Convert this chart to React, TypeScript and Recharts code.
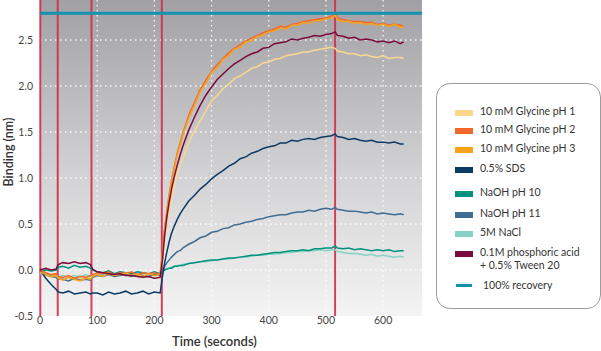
import React from "react";
import { CartesianGrid, Line, LineChart, ReferenceLine, XAxis, YAxis } from "recharts";

// sample times (s)
const TIME = [
  0, 10, 20, 28, 32, 40, 50, 60, 70, 80, 88, 92,
  100, 110, 120, 130, 140, 150, 160, 170, 180, 190, 200, 210,
  214, 218, 222, 226, 230, 235, 240, 245, 250,
  260, 270, 280, 290, 300, 310, 320, 330, 340, 350,
  360, 370, 380, 390, 400, 410, 420, 430, 440, 450,
  460, 470, 480, 490, 500, 510, 516,
  520, 530, 540, 550, 560, 570, 580, 590, 600, 610, 620, 630, 636,
];

const GLY_PH1 = [
  -0.03, -0.06, -0.08, -0.07, -0.09, -0.1, -0.08, -0.11, -0.09, -0.1, -0.08, -0.06,
  -0.05, -0.06, -0.04, -0.07, -0.05, -0.06, -0.04, -0.06, -0.05, -0.07, -0.05, -0.06,
  0.1, 0.32, 0.5, 0.65, 0.78, 0.92, 1.05, 1.13, 1.22,
  1.38, 1.51, 1.62, 1.73, 1.84, 1.9, 1.97, 2.02, 2.08, 2.11,
  2.15, 2.19, 2.21, 2.25, 2.26, 2.29, 2.3, 2.33, 2.34, 2.35,
  2.37, 2.37, 2.39, 2.4, 2.41, 2.42, 2.41,
  2.38, 2.37, 2.35, 2.35, 2.33, 2.34, 2.32, 2.31, 2.33, 2.3, 2.31, 2.31, 2.3,
];
const GLY_PH2 = [
  0.0, -0.03, -0.05, -0.04, -0.07, -0.08, -0.06, -0.09, -0.07, -0.08, -0.06, -0.05,
  -0.03, -0.04, -0.02, -0.05, -0.03, -0.04, -0.02, -0.05, -0.03, -0.04, -0.03, -0.05,
  0.18, 0.46, 0.66, 0.83, 0.98, 1.13, 1.27, 1.38, 1.49,
  1.68, 1.82, 1.96, 2.06, 2.16, 2.23, 2.3, 2.36, 2.41, 2.45,
  2.49, 2.52, 2.55, 2.58, 2.6, 2.62, 2.65, 2.64, 2.67, 2.68,
  2.7, 2.71, 2.72, 2.73, 2.74, 2.76, 2.79,
  2.74, 2.72, 2.71, 2.7, 2.7, 2.69, 2.69, 2.67, 2.68, 2.66, 2.67, 2.66, 2.65,
];
const GLY_PH3 = [
  -0.02, -0.05, -0.07, -0.06, -0.09, -0.11, -0.08, -0.1, -0.12, -0.09, -0.1, -0.07,
  -0.05, -0.07, -0.04, -0.06, -0.05, -0.03, -0.06, -0.05, -0.07, -0.04, -0.06, -0.05,
  0.16, 0.43, 0.63, 0.8, 0.96, 1.1, 1.25, 1.35, 1.47,
  1.65, 1.79, 1.94, 2.03, 2.15, 2.2, 2.29, 2.33, 2.4, 2.42,
  2.48, 2.49, 2.54, 2.55, 2.59, 2.6, 2.63, 2.62, 2.66, 2.66,
  2.69, 2.68, 2.71, 2.71, 2.73, 2.74, 2.77,
  2.72, 2.7, 2.7, 2.68, 2.69, 2.67, 2.68, 2.66, 2.67, 2.65, 2.67, 2.64, 2.64,
];
const SDS = [
  0.0, -0.09, -0.16, -0.21, -0.24, -0.25, -0.23, -0.26, -0.25, -0.24, -0.26, -0.25,
  -0.25, -0.27, -0.24, -0.26, -0.25, -0.23, -0.26, -0.25, -0.23, -0.26, -0.24, -0.25,
  -0.08, 0.08, 0.2, 0.31, 0.4, 0.48, 0.55, 0.61, 0.66,
  0.75, 0.81, 0.88, 0.93, 0.99, 1.04, 1.08, 1.13, 1.16, 1.21,
  1.23, 1.27, 1.29, 1.32, 1.34, 1.35, 1.38, 1.38, 1.41, 1.4,
  1.42, 1.43, 1.42, 1.44, 1.45, 1.46, 1.48,
  1.45, 1.44, 1.42, 1.43, 1.41, 1.4, 1.41, 1.39, 1.39, 1.38, 1.39, 1.37, 1.37,
];
const NAOH_PH10 = [
  -0.02, 0.0, -0.01, 0.0, 0.03, 0.04, 0.02, 0.05, 0.03, 0.04, 0.02, 0.0,
  -0.02, -0.03, -0.01, -0.04, -0.02, -0.03, -0.04, -0.02, -0.03, -0.04, -0.02, -0.04,
  -0.02, 0.0, 0.01, 0.02, 0.02, 0.04, 0.04, 0.05, 0.05,
  0.07, 0.08, 0.09, 0.1, 0.11, 0.11, 0.12, 0.13, 0.13, 0.14,
  0.15, 0.16, 0.16, 0.17, 0.18, 0.19, 0.19, 0.2, 0.21, 0.21,
  0.22, 0.21, 0.23, 0.23, 0.24, 0.24, 0.26,
  0.24, 0.23, 0.24, 0.22, 0.23, 0.22, 0.21, 0.22, 0.21, 0.22, 0.2, 0.21, 0.21,
];
const NAOH_PH11 = [
  -0.02, -0.05, -0.07, -0.08, -0.1, -0.1, -0.12, -0.09, -0.11, -0.1, -0.11, -0.08,
  -0.06, -0.07, -0.05, -0.07, -0.06, -0.05, -0.07, -0.05, -0.06, -0.07, -0.05, -0.06,
  -0.01, 0.04, 0.08, 0.11, 0.14, 0.17, 0.2, 0.21, 0.24,
  0.28, 0.31, 0.35, 0.37, 0.41, 0.42, 0.45, 0.46, 0.49, 0.5,
  0.52, 0.53, 0.55, 0.56, 0.58, 0.59, 0.6, 0.6, 0.62, 0.63,
  0.63, 0.65, 0.64, 0.66, 0.67, 0.66, 0.68,
  0.66, 0.65, 0.64, 0.64, 0.63, 0.62, 0.63, 0.61, 0.62, 0.61, 0.6, 0.61, 0.6,
];
const NACL_5M = [
  -0.04, -0.05, -0.06, -0.05, -0.07, -0.06, -0.08, -0.06, -0.07, -0.05, -0.07, -0.05,
  -0.04, -0.05, -0.03, -0.05, -0.04, -0.03, -0.05, -0.04, -0.03, -0.05, -0.04, -0.05,
  -0.02, 0.0, 0.02, 0.02, 0.03, 0.04, 0.05, 0.05, 0.06,
  0.07, 0.08, 0.09, 0.09, 0.1, 0.11, 0.12, 0.12, 0.13, 0.14,
  0.14, 0.15, 0.16, 0.16, 0.17, 0.17, 0.18, 0.19, 0.19, 0.2,
  0.2, 0.21, 0.21, 0.22, 0.21, 0.22, 0.22,
  0.2, 0.19, 0.18, 0.18, 0.17, 0.16, 0.17, 0.15, 0.16, 0.15, 0.14, 0.15, 0.14,
];
const PHOSPHORIC = [
  0.0, 0.02, 0.0, 0.01, 0.06, 0.08, 0.07, 0.09, 0.07, 0.08, 0.06, 0.01,
  -0.02, -0.03, -0.04, -0.05, -0.04, -0.06, -0.06, -0.07, -0.08, -0.07, -0.09, -0.08,
  0.1, 0.38, 0.58, 0.74, 0.88, 1.02, 1.14, 1.25, 1.35,
  1.52, 1.66, 1.79, 1.9, 1.99, 2.07, 2.13, 2.19, 2.24, 2.28,
  2.32, 2.35, 2.37, 2.41, 2.42, 2.46, 2.47, 2.48, 2.51, 2.5,
  2.52, 2.53, 2.55, 2.54, 2.56, 2.57, 2.59,
  2.55, 2.54, 2.52, 2.53, 2.5, 2.51, 2.5, 2.48, 2.49, 2.47, 2.49, 2.46, 2.48,
];

const RECOVERY = 2.79; // 100% recovery level
const EVENTS = [0.5, 31, 90, 213, 516]; // step boundaries (s)
const X_TICKS = [0, 100, 200, 300, 400, 500, 600];
const X_GRID = [100, 200, 300, 400, 500, 600];
const Y_TICKS = [-0.5, 0, 0.5, 1, 1.5, 2, 2.5];
const Y_GRID = [0, 0.5, 1, 1.5, 2, 2.5];

const SERIES = [
  { key: "g1", name: "10 mM Glycine pH 1", color: "#fdd68e", values: GLY_PH1 },
  { key: "g2", name: "10 mM Glycine pH 2", color: "#f2682a", values: GLY_PH2 },
  { key: "g3", name: "10 mM Glycine pH 3", color: "#f7a21b", values: GLY_PH3 },
  { key: "sds", name: "0.5% SDS", color: "#0c3a66", values: SDS },
  { key: "n10", name: "NaOH pH 10", color: "#00917f", values: NAOH_PH10 },
  { key: "n11", name: "NaOH pH 11", color: "#3f6d93", values: NAOH_PH11 },
  { key: "nacl", name: "5M NaCl", color: "#86d3c5", values: NACL_5M },
  { key: "pa", name: "0.1M phosphoric acid\n+ 0.5% Tween 20", color: "#7a0a3c", values: PHOSPHORIC },
];

// draw order: light lines first, maroon on top
const DRAW_ORDER = ["g1", "nacl", "n10", "n11", "sds", "g2", "g3", "pa"];

const data = TIME.map((t, i) => {
  const row: Record<string, number> = { t };
  SERIES.forEach((s) => (row[s.key] = s.values[i]));
  return row;
});

const FONT = "Lato, 'Open Sans', sans-serif";
const LEGEND_TOPS = [29, 47, 66, 86, 110, 131, 150, 170];

function YTick({ x, y, payload }: any) {
  return (
    <text x={x} y={y} dy="0.35em" textAnchor="end" fontSize={10.5} fill="#444" fontFamily={FONT}>
      {payload.value.toFixed(1)}
    </text>
  );
}

export default function App() {
  return (
    <div style={{ position: "absolute", left: 0, top: 0, width: 601, height: 351, background: "#fff", fontFamily: FONT }}>
      <LineChart width={601} height={351} data={data} margin={{ top: 0, right: 179, bottom: 0, left: 0 }}>
        <defs>
          <linearGradient id="plotBg" x1="0" y1="0" x2="0" y2="1">
            <stop offset="0%" stopColor="#a1a1a5" />
            <stop offset="55%" stopColor="#d2d2d4" />
            <stop offset="100%" stopColor="#f4f4f4" />
          </linearGradient>
        </defs>
        <CartesianGrid
          fill="url(#plotBg)"
          stroke="#ffffff"
          strokeOpacity={0.9}
          strokeWidth={1.3}
          strokeDasharray="1.5 3.5"
          horizontalValues={Y_GRID}
          verticalValues={X_GRID}
        />
        <XAxis
          dataKey="t"
          type="number"
          domain={[0, 668]}
          ticks={X_TICKS}
          axisLine={false}
          tickLine={false}
          tickSize={0}
          tickMargin={1}
          height={35}
          tick={{ fontSize: 10.5, fill: "#444", fontFamily: FONT }}
        />
        <YAxis
          type="number"
          domain={[-0.5, 2.935]}
          ticks={Y_TICKS}
          axisLine={false}
          tickLine={false}
          tickSize={0}
          tickMargin={7}
          width={40}
          tick={<YTick />}
        />
        {EVENTS.map((x) => (
          <ReferenceLine key={x} x={x} stroke="#cf2f4c" strokeWidth={2} strokeOpacity={0.9} />
        ))}
        {DRAW_ORDER.map((k) => {
          const s = SERIES.find((d) => d.key === k)!;
          return (
            <Line
              key={k}
              dataKey={k}
              name={s.name}
              stroke={s.color}
              strokeWidth={1.5}
              dot={false}
              type="linear"
              isAnimationActive={false}
            />
          );
        })}
        <ReferenceLine y={RECOVERY} stroke="#1592ad" strokeWidth={3} />
      </LineChart>

      {/* axis titles */}
      <div
        style={{
          position: "absolute", left: 172, top: 333, fontSize: 13, fontWeight: 600, color: "#333",
        }}
      >
        Time (seconds)
      </div>
      <div
        style={{
          position: "absolute", left: 8, top: 152, transform: "translate(-50%, -50%) rotate(-90deg)",
          fontSize: 12.5, fontWeight: 600, color: "#333", whiteSpace: "nowrap",
        }}
      >
        Binding (nm)
      </div>

      {/* legend */}
      <div
        style={{
          position: "absolute", left: 436, top: 83, width: 163, height: 224,
          border: "1px solid #9c9c9c", borderRadius: 14, background: "#fff",
        }}
      >
        {SERIES.map((s, i) => (
          <div key={s.key} style={{ position: "absolute", left: 18, top: LEGEND_TOPS[i] - 4, display: "flex" }}>
            <div style={{ width: 18, height: 6, marginTop: 1, background: s.color }} />
            <div style={{ marginLeft: 7, marginTop: -4, fontSize: 10.5, lineHeight: "12.5px", color: "#333", whiteSpace: "pre-line" }}>
              {s.name}
            </div>
          </div>
        ))}
        <div style={{ position: "absolute", left: 19, top: 197, display: "flex" }}>
          <div style={{ width: 16, height: 3, marginTop: 3, background: "#1592ad" }} />
          <div style={{ marginLeft: 11, marginTop: -2, fontSize: 10.5, lineHeight: "12.5px", color: "#333" }}>
            100% recovery
          </div>
        </div>
      </div>
    </div>
  );
}
